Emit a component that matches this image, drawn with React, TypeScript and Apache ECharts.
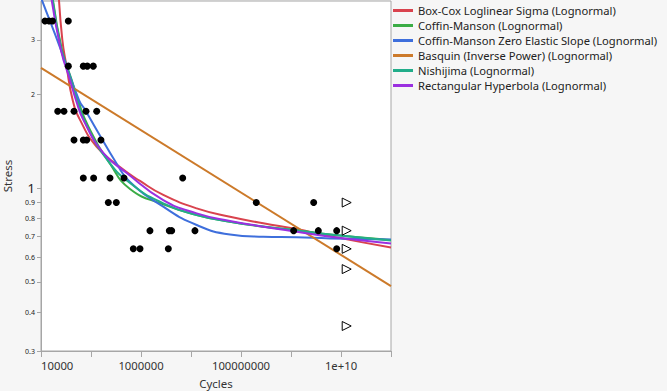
import React, { useEffect, useRef } from "react";
import * as echarts from "echarts";

// ---- Data (Cycles, Stress) ----
const failures: [number, number][] = [
  [1.2e4, 3.45], [1.45e4, 3.45], [1.7e4, 3.45], [3.52e4, 3.45],
  [3.52e4, 2.47], [7.02e4, 2.47], [8.43e4, 2.47], [1.11e5, 2.47],
  [2.16e4, 1.77], [2.88e4, 1.77], [4.57e4, 1.77], [7.94e4, 1.77], [1.3e5, 1.77],
  [4.57e4, 1.43], [7.02e4, 1.43], [8.2e4, 1.43], [1.58e5, 1.43],
  [7.02e4, 1.08], [1.13e5, 1.08], [2.4e5, 1.08], [4.57e5, 1.08], [6.82e6, 1.08],
  [2.22e5, 0.9], [3.21e5, 0.9], [2.02e8, 0.9], [2.84e9, 0.9],
  [1.51e6, 0.731], [3.68e6, 0.731], [4.11e6, 0.731], [1.2e7, 0.731],
  [1.13e9, 0.731], [3.52e9, 0.731], [8.2e9, 0.731],
  [7.02e5, 0.639], [9.55e5, 0.639], [3.52e6, 0.639], [8.2e9, 0.639],
];
const censored: [number, number][] = [
  [1.3e10, 0.9], [1.3e10, 0.731], [1.3e10, 0.639], [1.3e10, 0.55], [1.3e10, 0.361],
];

const boxCox: [number, number][] = [
  [2.24e4, 4.28], [2.67e4, 3.0], [3.24e4, 2.47], [4.31e4, 1.92], [6.03e4, 1.66],
  [1.3e5, 1.36], [3.8e5, 1.17], [9.55e5, 1.056], [2.79e6, 0.952], [1.3e7, 0.862],
  [6.03e7, 0.81], [2.79e8, 0.772], [1.3e9, 0.74], [6.03e9, 0.702], [1e11, 0.645],
];
const coffinManson: [number, number][] = [
  [1.68e4, 4.18], [2.63e4, 2.78], [4.11e4, 2.23], [5.5e4, 1.92], [8.83e4, 1.58],
  [2.4e5, 1.2], [6.03e5, 0.995], [2.79e6, 0.888], [1.3e7, 0.821], [6.03e7, 0.781],
  [2.79e8, 0.753], [1.3e9, 0.733], [6.03e9, 0.711], [1e11, 0.682],
];
const coffinMansonZero: [number, number][] = [
  [1e4, 4.1], [1.1e4, 3.94], [2.51e4, 2.78], [5.75e4, 1.92], [7.59e4, 1.79],
  [1.3e5, 1.54], [3.27e5, 1.2], [6.03e5, 1.048], [2.79e6, 0.873], [1.3e7, 0.762],
  [6.03e7, 0.711], [2.79e8, 0.699], [1.3e9, 0.696], [6.03e9, 0.69], [1e11, 0.685],
];
const basquin: [number, number][] = [
  [1e4, 2.44], [1e11, 0.485],
];
const nishijima: [number, number][] = [
  [1.66e4, 4.18], [2.57e4, 2.78], [3.98e4, 2.23], [5.25e4, 1.92], [7.94e4, 1.61],
  [2.0e5, 1.25], [6.03e5, 1.04], [2.79e6, 0.895], [1.3e7, 0.821], [6.03e7, 0.781],
  [2.79e8, 0.754], [1.3e9, 0.732], [6.03e9, 0.71], [1e11, 0.68],
];
const rectHyperbola: [number, number][] = [
  [1.58e4, 4.18], [2.51e4, 2.78], [3.8e4, 2.23], [5.01e4, 1.92], [7.02e4, 1.66],
  [1.76e5, 1.3], [5.18e5, 1.12], [2.79e6, 0.917], [1.3e7, 0.831], [6.03e7, 0.785],
  [2.79e8, 0.753], [1.3e9, 0.725], [6.03e9, 0.699], [1e11, 0.665],
];

const seriesNames = [
  "Box-Cox Loglinear Sigma (Lognormal)",
  "Coffin-Manson (Lognormal)",
  "Coffin-Manson Zero Elastic Slope (Lognormal)",
  "Basquin (Inverse Power) (Lognormal)",
  "Nishijima (Lognormal)",
  "Rectangular Hyperbola (Lognormal)",
];
const seriesColors = ["#d9434e", "#3aac45", "#3e6fdc", "#cc7a2a", "#22ad8a", "#9b30e0"];
const curveData = [boxCox, coffinManson, coffinMansonZero, basquin, nishijima, rectHyperbola];

const xTickValues = [1e4, 1e5, 1e6, 1e7, 1e8, 1e9, 1e10, 1e11];
const xLabelValues = [1e4, 1e6, 1e8, 1e10];
const xLabelTexts = ["10000", "1000000", "100000000", "1e+10"];
const yTickValues = [0.3, 0.4, 0.5, 0.6, 0.7, 0.8, 0.9, 1, 2, 3];
const yTickTexts = ["0.3", "0.4", "0.5", "0.6", "0.7", "0.8", "0.9", "1", "2", "3"];
const xRange = [1e4, 1e11];
const yRange = [0.3, 4];

const L = Math.log10;
const toLog = (arr: [number, number][]) => arr.map(([x, y]) => [L(x), L(y)]);
const FONT = "'Noto Sans', sans-serif";

export default function App() {
  const ref = useRef<HTMLDivElement>(null);
  useEffect(() => {
    if (!ref.current) return;
    const chart = echarts.init(ref.current, undefined, { renderer: "svg" });
    const lineSeries = seriesNames.map((name, i) => ({
      type: "line",
      name,
      data: toLog(curveData[i]),
      smooth: 0.5,
      showSymbol: false,
      symbol: "none",
      clip: true,
      lineStyle: { width: 2, color: seriesColors[i] },
      itemStyle: { color: seriesColors[i] },
      z: 2,
    }));
    chart.setOption({
      animation: false,
      backgroundColor: "#f6f6f6",
      textStyle: { fontFamily: FONT },
      grid: {
        left: 41, top: 1, width: 350, height: 350,
        outerBoundsMode: "none", containLabel: false,
        show: true, backgroundColor: "#ffffff", borderColor: "#a6a6a6", borderWidth: 1,
      },
      legend: {
        orient: "vertical", left: 393, top: 3, padding: 0,
        icon: "rect", itemWidth: 20, itemHeight: 3, itemGap: 0,
        textStyle: { fontSize: 11.2, lineHeight: 15, color: "#222", fontFamily: FONT },
        data: seriesNames,
      },
      xAxis: {
        type: "value",
        min: L(xRange[0]), max: L(xRange[1]),
        name: "Cycles", nameLocation: "middle", nameGap: 26,
        nameTextStyle: { fontSize: 11.5, color: "#333", fontFamily: FONT },
        splitLine: { show: false },
        axisLine: { show: true, onZero: false, lineStyle: { color: "#a6a6a6" } },
        axisTick: { show: true, length: 6, lineStyle: { color: "#a6a6a6" }, customValues: xTickValues.map(L) },
        axisLabel: {
          customValues: xLabelValues.map(L),
          alignMinLabel: "left",
          margin: 9, fontSize: 11.3, color: "#333", fontFamily: FONT,
          formatter: (v: number) => {
            const i = xLabelValues.findIndex((t) => Math.abs(L(t) - v) < 1e-6);
            return i >= 0 ? xLabelTexts[i] : "";
          },
        },
      },
      yAxis: {
        type: "value",
        min: L(yRange[0]), max: L(yRange[1]),
        name: "Stress", nameLocation: "middle", nameGap: 28,
        nameTextStyle: { fontSize: 11.5, color: "#333", fontFamily: FONT },
        splitLine: { show: false },
        axisLine: { show: true, onZero: false, lineStyle: { color: "#a6a6a6" } },
        axisTick: { show: true, length: 4, lineStyle: { color: "#a6a6a6" }, customValues: yTickValues.map(L) },
        axisLabel: {
          customValues: yTickValues.map(L),
          margin: 6, color: "#222", fontFamily: FONT,
          formatter: (v: number) => {
            const i = yTickValues.findIndex((t) => Math.abs(L(t) - v) < 1e-6);
            if (i < 0) return "";
            return yTickTexts[i] === "1" ? "{b|1}" : "{s|" + yTickTexts[i] + "}";
          },
          rich: {
            s: { fontSize: 7, color: "#222", fontFamily: FONT },
            b: { fontSize: 13, color: "#222", fontFamily: FONT },
          },
        },
      },
      series: [
        ...lineSeries,
        {
          type: "scatter", name: "Failures", data: toLog(failures),
          symbol: "circle", symbolSize: 7, itemStyle: { color: "#000", opacity: 1 }, z: 5,
        },
        {
          type: "scatter", name: "Censored", data: toLog(censored),
          symbol: "path://M0,0L10,5L0,10Z", symbolSize: [9, 9],
          itemStyle: { color: "#ffffff", borderColor: "#000", borderWidth: 1, opacity: 1 }, z: 5,
        },
      ],
    });
    return () => chart.dispose();
  }, []);
  return (
    <div
      ref={ref}
      style={{ position: "fixed", left: 0, top: 0, width: 667, height: 391 }}
    />
  );
}
